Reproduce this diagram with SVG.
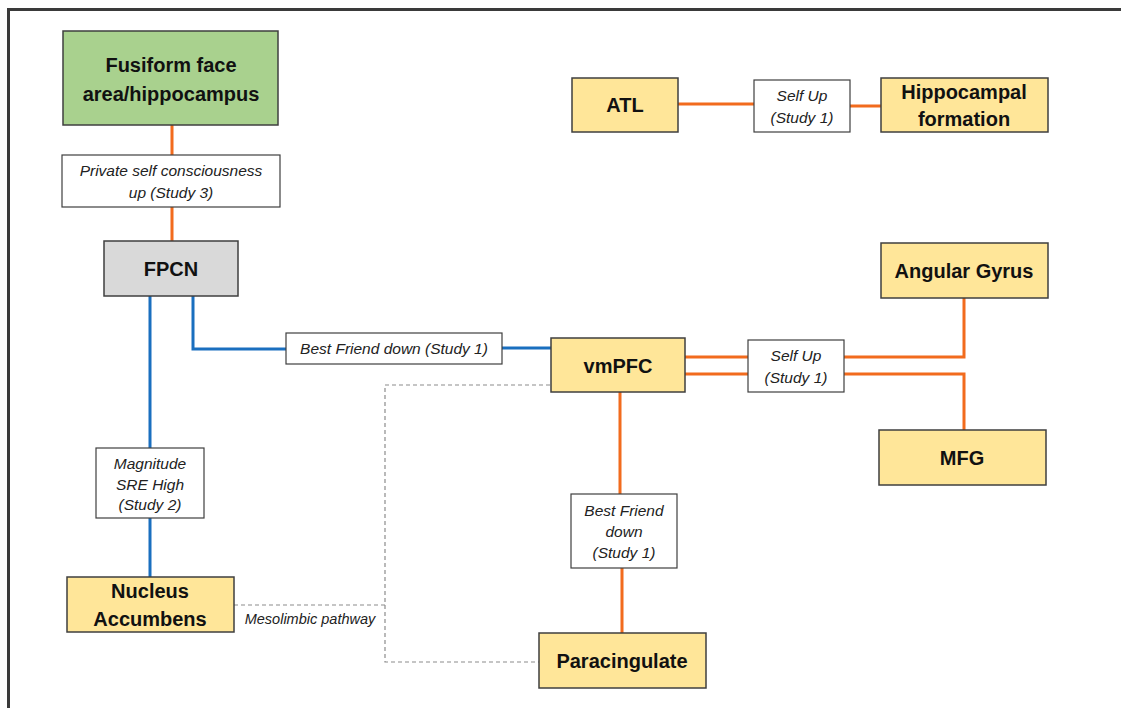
<svg xmlns="http://www.w3.org/2000/svg" width="1121" height="708" viewBox="0 0 1121 708">
<style>
.node{stroke:#3f3f3f;stroke-width:1.5}
.y{fill:#ffe699}
.lbl{fill:#fff;stroke:#3f3f3f;stroke-width:1.2}
.t{font-family:"Liberation Sans",Arial,sans-serif;font-weight:bold;font-size:20px;fill:#111;text-anchor:middle}
.i{font-family:"Liberation Sans",Arial,sans-serif;font-style:italic;font-size:15.5px;fill:#222;text-anchor:middle}
.o{stroke:#f26b1d;stroke-width:3;fill:none}
.b{stroke:#1a6fbf;stroke-width:3;fill:none}
.d{stroke:#8c8c8c;stroke-width:1.2;fill:none;stroke-dasharray:4 3}
</style>
<rect x="0" y="0" width="1121" height="708" fill="#fff"/>
<path d="M8.5 708 V9.5 H1121" fill="none" stroke="#3a3a3a" stroke-width="3"/>
<g id="connectors">
<path class="o" d="M172 125 V155 M172 207 V241"/>
<path class="b" d="M150 296 V448 M150 518 V577"/>
<path class="b" d="M193 296 V349 H286 M502 348 H551"/>
<path class="o" d="M678 104 H754 M850 106 H881"/>
<path class="o" d="M685 357 H748 M685 374 H748"/>
<path class="o" d="M844 357 H964 V298 M844 374 H964 V430"/>
<path class="o" d="M620 392 V494 M622 568 V633"/>
<path class="d" d="M234 605 H385 V385 H551 M385 605 V662 H539"/>
</g>
<g id="fusiform"><rect class="node" x="63" y="31" width="215" height="94" fill="#a9d18e"/><text class="t" x="171" y="72">Fusiform face</text><text class="t" x="171" y="101">area/hippocampus</text></g>
<g id="lbl-private"><rect class="lbl" x="62" y="155" width="218" height="52"/><text class="i" x="171" y="176">Private self consciousness</text><text class="i" x="171" y="198">up (Study 3)</text></g>
<g id="fpcn"><rect class="node" x="104" y="241" width="134" height="55" fill="#d9d9d9"/><text class="t" x="171" y="276">FPCN</text></g>
<g id="lbl-magnitude"><rect class="lbl" x="96" y="448" width="108" height="70"/><text class="i" x="150" y="469">Magnitude</text><text class="i" x="150" y="490">SRE High</text><text class="i" x="150" y="510">(Study 2)</text></g>
<g id="nacc"><rect class="node y" x="67" y="577" width="167" height="55"/><text class="t" x="150" y="598">Nucleus</text><text class="t" x="150" y="626">Accumbens</text></g>
<text class="i" x="310" y="624" style="font-size:14.5px">Mesolimbic pathway</text>
<g id="lbl-bfd1"><rect class="lbl" x="286" y="333" width="216" height="31"/><text class="i" x="394" y="354">Best Friend down (Study 1)</text></g>
<g id="vmpfc"><rect class="node y" x="551" y="338" width="134" height="54"/><text class="t" x="618" y="373">vmPFC</text></g>
<g id="lbl-selfup2"><rect class="lbl" x="748" y="340" width="96" height="52"/><text class="i" x="796" y="361">Self  Up</text><text class="i" x="796" y="383">(Study 1)</text></g>
<g id="angular"><rect class="node y" x="881" y="243" width="167" height="55"/><text class="t" x="964" y="278">Angular Gyrus</text></g>
<g id="mfg"><rect class="node y" x="879" y="430" width="167" height="55"/><text class="t" x="962" y="465">MFG</text></g>
<g id="atl"><rect class="node y" x="572" y="78" width="106" height="54"/><text class="t" x="625" y="112">ATL</text></g>
<g id="lbl-selfup1"><rect class="lbl" x="754" y="80" width="96" height="52"/><text class="i" x="802" y="101">Self  Up</text><text class="i" x="802" y="123">(Study 1)</text></g>
<g id="hippo"><rect class="node y" x="881" y="78" width="167" height="54"/><text class="t" x="964" y="99">Hippocampal</text><text class="t" x="964" y="126">formation</text></g>
<g id="lbl-bfd2"><rect class="lbl" x="571" y="494" width="106" height="74"/><text class="i" x="624" y="516">Best Friend</text><text class="i" x="624" y="537">down</text><text class="i" x="624" y="558">(Study 1)</text></g>
<g id="paracingulate"><rect class="node y" x="539" y="633" width="167" height="55"/><text class="t" x="622" y="668">Paracingulate</text></g>
</svg>
